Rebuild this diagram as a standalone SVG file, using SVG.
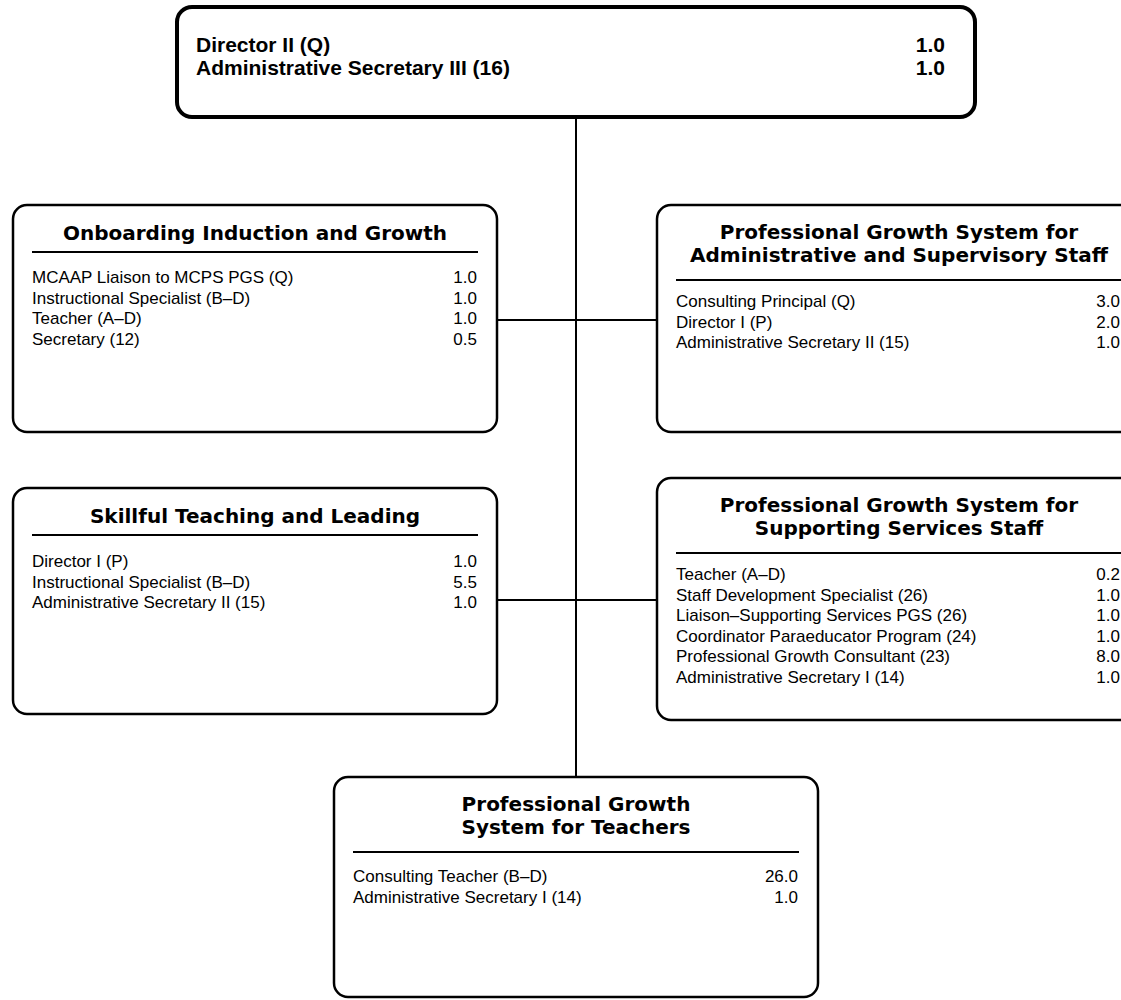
<svg xmlns="http://www.w3.org/2000/svg" width="1121" height="1000" viewBox="0 0 1121 1000">
<style>
.box{fill:#fff;stroke:#000;stroke-width:2.5}
.topbox{fill:#fff;stroke:#000;stroke-width:4}
.rule{stroke:#000;stroke-width:2}
.conn{stroke:#000;stroke-width:2;fill:none}
.t{font-family:"DejaVu Sans",sans-serif;font-weight:bold;font-size:20px;text-anchor:middle;fill:#000}
.tp{font-family:"Liberation Sans",Arial,sans-serif;font-weight:bold;font-size:21px;fill:#000}
.tpn{font-family:"Liberation Sans",Arial,sans-serif;font-weight:bold;font-size:21px;fill:#000;text-anchor:end}
.it{font-family:"Liberation Sans",Arial,sans-serif;font-size:17px;fill:#000}
.n{font-family:"Liberation Sans",Arial,sans-serif;font-size:17px;fill:#000;text-anchor:end}
</style>
<rect width="1121" height="1000" fill="#fff"/>
<g id="connectors">
<line class="conn" x1="576" y1="117" x2="576" y2="777"/>
<line class="conn" x1="497" y1="320" x2="657" y2="320"/>
<line class="conn" x1="497" y1="600" x2="657" y2="600"/>
</g>
<g id="director">
<rect class="topbox" x="177" y="7" width="798" height="110" rx="15"/>
<text class="tp" x="196" y="52">Director II (Q)</text>
<text class="tp" x="196" y="75">Administrative Secretary III (16)</text>
<text class="tpn" x="945" y="52">1.0</text>
<text class="tpn" x="945" y="75">1.0</text>
</g>
<g id="onboarding">
<rect class="box" x="13" y="205" width="484" height="227" rx="14"/>
<text class="t" x="255" y="240">Onboarding Induction and Growth</text>
<line class="rule" x1="32" y1="252" x2="478" y2="252"/>
<text class="it" x="32" y="283">MCAAP Liaison to MCPS PGS (Q)</text>
<text class="it" x="32" y="303.5">Instructional Specialist (B–D)</text>
<text class="it" x="32" y="324">Teacher (A–D)</text>
<text class="it" x="32" y="344.5">Secretary (12)</text>
<text class="n" x="477" y="283">1.0</text>
<text class="n" x="477" y="303.5">1.0</text>
<text class="n" x="477" y="324">1.0</text>
<text class="n" x="477" y="344.5">0.5</text>
</g>
<g id="pgs-admin">
<rect class="box" x="657" y="205" width="484" height="227" rx="14"/>
<text class="t" x="899" y="239">Professional Growth System for</text>
<text class="t" x="899" y="262">Administrative and Supervisory Staff</text>
<line class="rule" x1="676" y1="280" x2="1122" y2="280"/>
<text class="it" x="676" y="307">Consulting Principal (Q)</text>
<text class="it" x="676" y="327.5">Director I (P)</text>
<text class="it" x="676" y="348">Administrative Secretary II (15)</text>
<text class="n" x="1120" y="307">3.0</text>
<text class="n" x="1120" y="327.5">2.0</text>
<text class="n" x="1120" y="348">1.0</text>
</g>
<g id="skillful">
<rect class="box" x="13" y="488" width="484" height="226" rx="14"/>
<text class="t" x="255" y="523">Skillful Teaching and Leading</text>
<line class="rule" x1="32" y1="535" x2="478" y2="535"/>
<text class="it" x="32" y="567">Director I (P)</text>
<text class="it" x="32" y="587.5">Instructional Specialist (B–D)</text>
<text class="it" x="32" y="608">Administrative Secretary II (15)</text>
<text class="n" x="477" y="567">1.0</text>
<text class="n" x="477" y="587.5">5.5</text>
<text class="n" x="477" y="608">1.0</text>
</g>
<g id="pgs-support">
<rect class="box" x="657" y="478" width="484" height="242" rx="14"/>
<text class="t" x="899" y="512">Professional Growth System for</text>
<text class="t" x="899" y="535">Supporting Services Staff</text>
<line class="rule" x1="676" y1="553" x2="1122" y2="553"/>
<text class="it" x="676" y="580">Teacher (A–D)</text>
<text class="it" x="676" y="600.5">Staff Development Specialist (26)</text>
<text class="it" x="676" y="621">Liaison–Supporting Services PGS (26)</text>
<text class="it" x="676" y="641.5">Coordinator Paraeducator Program (24)</text>
<text class="it" x="676" y="662">Professional Growth Consultant (23)</text>
<text class="it" x="676" y="682.5">Administrative Secretary I (14)</text>
<text class="n" x="1120" y="580">0.2</text>
<text class="n" x="1120" y="600.5">1.0</text>
<text class="n" x="1120" y="621">1.0</text>
<text class="n" x="1120" y="641.5">1.0</text>
<text class="n" x="1120" y="662">8.0</text>
<text class="n" x="1120" y="682.5">1.0</text>
</g>
<g id="pgs-teachers">
<rect class="box" x="334" y="777" width="484" height="220" rx="14"/>
<text class="t" x="576" y="811">Professional Growth</text>
<text class="t" x="576" y="834">System for Teachers</text>
<line class="rule" x1="353" y1="852" x2="799" y2="852"/>
<text class="it" x="353" y="882">Consulting Teacher (B–D)</text>
<text class="it" x="353" y="902.5">Administrative Secretary I (14)</text>
<text class="n" x="798" y="882">26.0</text>
<text class="n" x="798" y="902.5">1.0</text>
</g>
</svg>
